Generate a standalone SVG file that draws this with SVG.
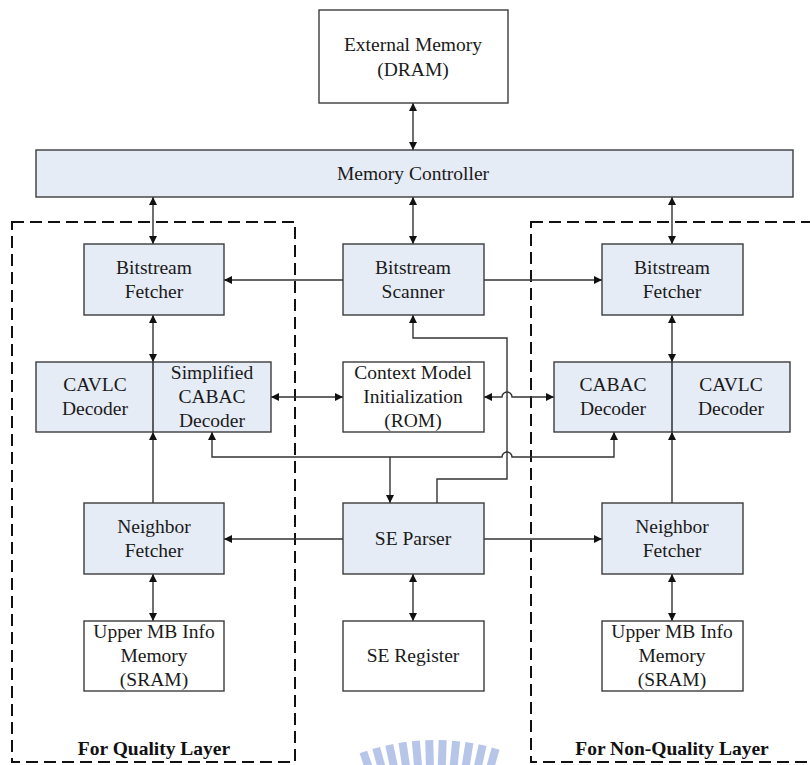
<svg xmlns="http://www.w3.org/2000/svg" width="810" height="765" viewBox="0 0 810 765">
  <style>
    .blk { fill: #e6ecf6; stroke: #3c3c3c; stroke-width: 1.4; }
    .mem { fill: #ffffff; stroke: #3c3c3c; stroke-width: 1.4; }
    .lbl { font-family: "Liberation Serif", "Times New Roman", serif; font-size: 19.5px; fill: #1a1a1a; text-anchor: middle; }
    .cap { font-family: "Liberation Serif", "Times New Roman", serif; font-size: 19.5px; font-weight: bold; fill: #111; text-anchor: middle; }
    .wire { fill: none; stroke: #333; stroke-width: 1.4; }
    .both { marker-start: url(#ah); marker-end: url(#ah); }
    .to { marker-end: url(#ah); }
    .zone { fill: none; stroke: #111; stroke-width: 2; stroke-dasharray: 12 6; }
    .mark { fill: #b7c5e8; }
  </style>
  <defs>
    <marker id="ah" viewBox="0 0 10 10" refX="10" refY="5" markerWidth="8" markerHeight="8" markerUnits="userSpaceOnUse" orient="auto-start-reverse">
      <path d="M0,0 L10,5 L0,10 Z" fill="#111"/>
    </marker>
    <rect id="bar" class="mark" x="431" y="740" width="8" height="40"/>
  </defs>

  <rect width="810" height="765" fill="#ffffff"/>

  <!-- faint logo bars along the bottom edge -->
  <g id="watermark">
    <use href="#bar" transform="rotate(-19 435 960)"/>
    <use href="#bar" transform="rotate(-15.5 435 960)"/>
    <use href="#bar" transform="rotate(-12 435 960)"/>
    <use href="#bar" transform="rotate(-8.5 435 960)"/>
    <use href="#bar" transform="rotate(-5 435 960)"/>
    <use href="#bar" transform="rotate(-1.5 435 960)"/>
    <use href="#bar" transform="rotate(2 435 960)"/>
    <use href="#bar" transform="rotate(5.5 435 960)"/>
    <use href="#bar" transform="rotate(9 435 960)"/>
    <use href="#bar" transform="rotate(12.5 435 960)"/>
    <use href="#bar" transform="rotate(16 435 960)"/>
  </g>

  <!-- layer regions -->
  <g id="quality-layer">
    <rect class="zone" x="12" y="222" width="283" height="540"/>
    <text class="cap" x="154" y="755">For Quality Layer</text>
  </g>
  <g id="non-quality-layer">
    <rect class="zone" x="531" y="222" width="300" height="540"/>
    <text class="cap" x="672" y="755">For Non-Quality Layer</text>
  </g>

  <!-- connectors -->
  <g id="connectors">
    <line class="wire both" x1="413" y1="103" x2="413" y2="150"/>
    <line class="wire both" x1="153" y1="197" x2="153" y2="244"/>
    <line class="wire both" x1="413" y1="197" x2="413" y2="244"/>
    <line class="wire both" x1="672" y1="197" x2="672" y2="244"/>
    <line class="wire to" x1="343" y1="280" x2="224" y2="280"/>
    <line class="wire to" x1="484" y1="280" x2="602" y2="280"/>
    <line class="wire both" x1="153" y1="315" x2="153" y2="362"/>
    <line class="wire both" x1="672" y1="315" x2="672" y2="362"/>
    <line class="wire both" x1="271" y1="397" x2="343" y2="397"/>
    <path class="wire both" d="M484,397 H502 A5,5 0 0 1 512,397 H554"/>
    <path class="wire to" d="M437,503 V479 H507 V338 H413 V315"/>
    <path class="wire both" d="M212,432 V457 H502 A5,5 0 0 1 512,457 H614 V432"/>
    <line class="wire to" x1="390" y1="457" x2="390" y2="503"/>
    <line class="wire to" x1="153" y1="503" x2="153" y2="432"/>
    <line class="wire to" x1="672" y1="503" x2="672" y2="432"/>
    <line class="wire to" x1="343" y1="539" x2="224" y2="539"/>
    <line class="wire to" x1="484" y1="539" x2="602" y2="539"/>
    <line class="wire both" x1="153" y1="574" x2="153" y2="621"/>
    <line class="wire both" x1="413" y1="574" x2="413" y2="621"/>
    <line class="wire both" x1="672" y1="574" x2="672" y2="621"/>
  </g>

  <!-- nodes -->
  <g id="external-memory">
    <rect class="mem" x="319" y="10" width="189" height="93"/>
    <text class="lbl" x="413" y="51">External Memory</text>
    <text class="lbl" x="413" y="76">(DRAM)</text>
  </g>
  <g id="memory-controller">
    <rect class="blk" x="36" y="150" width="757" height="47"/>
    <text class="lbl" x="413" y="180">Memory Controller</text>
  </g>
  <g id="bitstream-fetcher-q">
    <rect class="blk" x="84" y="244" width="140" height="71"/>
    <text class="lbl" x="154" y="274">Bitstream</text>
    <text class="lbl" x="154" y="298">Fetcher</text>
  </g>
  <g id="bitstream-scanner">
    <rect class="blk" x="343" y="244" width="141" height="71"/>
    <text class="lbl" x="413" y="274">Bitstream</text>
    <text class="lbl" x="413" y="298">Scanner</text>
  </g>
  <g id="bitstream-fetcher-nq">
    <rect class="blk" x="602" y="244" width="141" height="71"/>
    <text class="lbl" x="672" y="274">Bitstream</text>
    <text class="lbl" x="672" y="298">Fetcher</text>
  </g>
  <g id="decoder-q">
    <rect class="blk" x="36" y="362" width="235" height="70"/>
    <line x1="153" y1="362" x2="153" y2="432" stroke="#222" stroke-width="1.4"/>
    <text class="lbl" x="95" y="391">CAVLC</text>
    <text class="lbl" x="95" y="415">Decoder</text>
    <text class="lbl" x="212" y="379">Simplified</text>
    <text class="lbl" x="212" y="403">CABAC</text>
    <text class="lbl" x="212" y="427">Decoder</text>
  </g>
  <g id="context-model">
    <rect class="mem" x="343" y="362" width="141" height="70"/>
    <text class="lbl" x="413" y="379">Context Model</text>
    <text class="lbl" x="413" y="403">Initialization</text>
    <text class="lbl" x="413" y="427">(ROM)</text>
  </g>
  <g id="decoder-nq">
    <rect class="blk" x="554" y="362" width="236" height="70"/>
    <line x1="672" y1="362" x2="672" y2="432" stroke="#222" stroke-width="1.4"/>
    <text class="lbl" x="613" y="391">CABAC</text>
    <text class="lbl" x="613" y="415">Decoder</text>
    <text class="lbl" x="731" y="391">CAVLC</text>
    <text class="lbl" x="731" y="415">Decoder</text>
  </g>
  <g id="neighbor-fetcher-q">
    <rect class="blk" x="84" y="503" width="140" height="71"/>
    <text class="lbl" x="154" y="533">Neighbor</text>
    <text class="lbl" x="154" y="557">Fetcher</text>
  </g>
  <g id="se-parser">
    <rect class="blk" x="343" y="503" width="141" height="71"/>
    <text class="lbl" x="413" y="545">SE Parser</text>
  </g>
  <g id="neighbor-fetcher-nq">
    <rect class="blk" x="602" y="503" width="141" height="71"/>
    <text class="lbl" x="672" y="533">Neighbor</text>
    <text class="lbl" x="672" y="557">Fetcher</text>
  </g>
  <g id="upper-mb-memory-q">
    <rect class="mem" x="84" y="621" width="140" height="70"/>
    <text class="lbl" x="154" y="638">Upper MB Info</text>
    <text class="lbl" x="154" y="662">Memory</text>
    <text class="lbl" x="154" y="686">(SRAM)</text>
  </g>
  <g id="se-register">
    <rect class="mem" x="343" y="621" width="141" height="70"/>
    <text class="lbl" x="413" y="662">SE Register</text>
  </g>
  <g id="upper-mb-memory-nq">
    <rect class="mem" x="602" y="621" width="141" height="70"/>
    <text class="lbl" x="672" y="638">Upper MB Info</text>
    <text class="lbl" x="672" y="662">Memory</text>
    <text class="lbl" x="672" y="686">(SRAM)</text>
  </g>
</svg>
